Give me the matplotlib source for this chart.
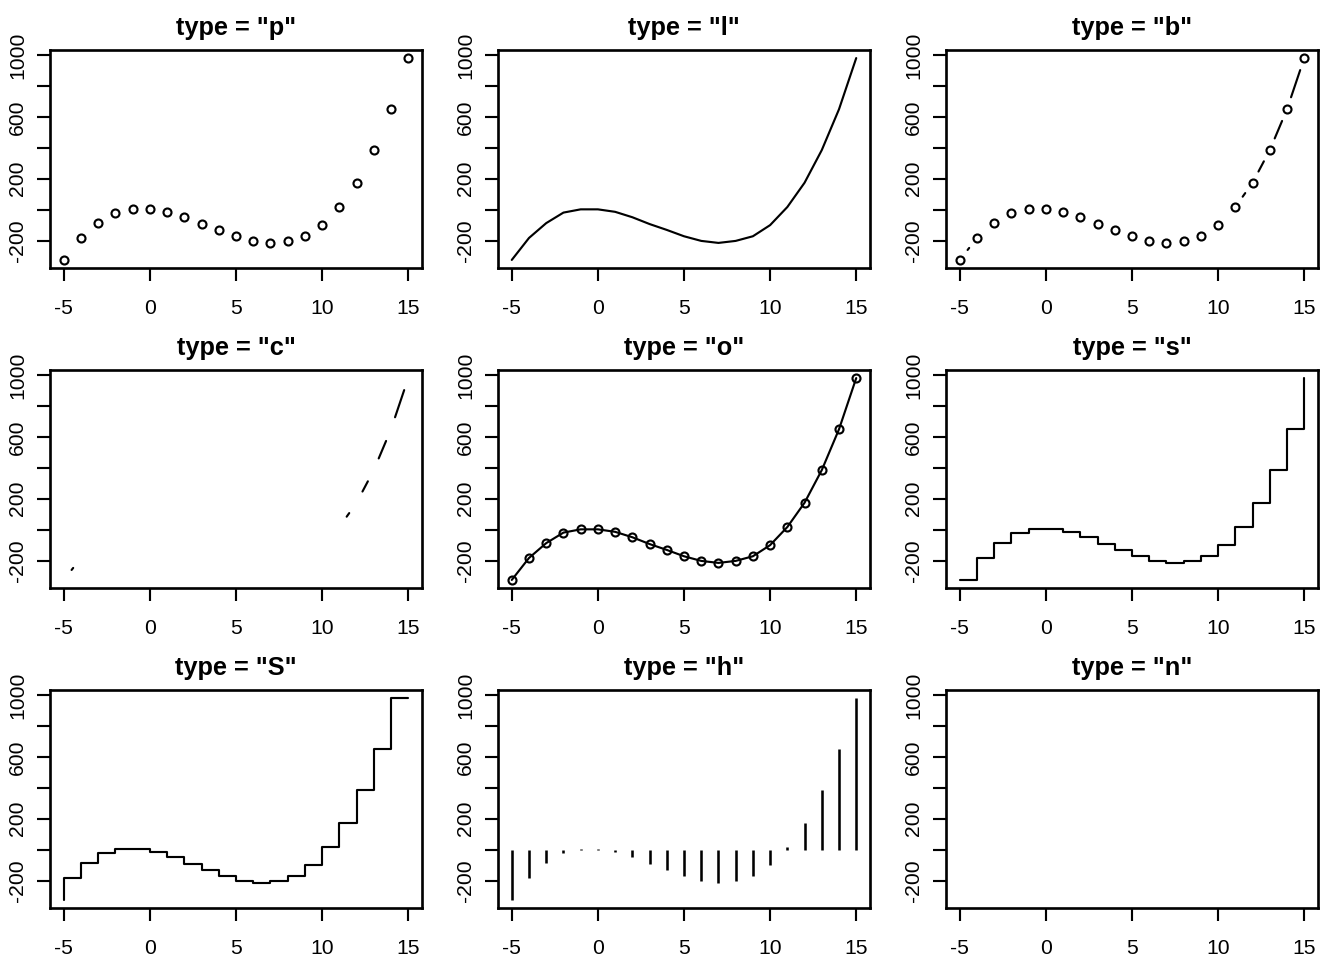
import numpy as np
import matplotlib.pyplot as plt

plt.rcParams["font.family"] = ["Liberation Sans", "DejaVu Sans"]
plt.rcParams["axes.unicode_minus"] = False

# data (same series in every panel)
x = list(range(-5, 16))
y = [-325, -183, -87, -19, 2, 2, -14, -49, -93, -131, -172, -202, -215,
     -202, -172, -100, 17, 174, 385, 649, 980]
types = ["p", "l", "b", "c", "o", "s", "S", "h", "n"]
xticks = [-5, 0, 5, 10, 15]
yticks = [-200, 0, 200, 400, 600, 800, 1000]
ylabels = ["-200", "", "200", "", "600", "", "1000"]

DPI = 192
fig = plt.figure(figsize=(7, 5), dpi=DPI)

LW = 0.8          # lwd = 1
GAP = 0.066 * DPI  # gap around points for type "b" / "c", in pixels


def gapped_segments(ax, xs, ys):
    # R leaves a gap of half a character around each point
    pts = ax.transData.transform(np.column_stack([xs, ys]))
    inv = ax.transData.inverted()
    for p0, p1 in zip(pts[:-1], pts[1:]):
        d = p1 - p0
        f = np.hypot(*d)
        if f > 2 * GAP:
            a = p0 + d * GAP / f
            b = p1 - d * GAP / f
            seg = inv.transform(np.array([a, b]))
            ax.plot(seg[:, 0], seg[:, 1], color="black", lw=LW,
                    solid_capstyle="round")


xr = max(x) - min(x)
yr = max(y) - min(y)

for i, t in enumerate(types):
    r, c = divmod(i, 3)
    left = (50 + 448 * c) / 1344
    bottom = 1 - (268 + 320 * r) / 960
    ax = fig.add_axes([left, bottom, 372 / 1344, 218 / 960])
    ax.set_xlim(min(x) - 0.04 * xr, max(x) + 0.04 * xr)
    ax.set_ylim(min(y) - 0.04 * yr, max(y) + 0.04 * yr)

    kw = dict(color="black", lw=LW, solid_capstyle="round",
              solid_joinstyle="round")
    mk = dict(marker="o", ms=3.0, mfc="none", mec="black", mew=LW)

    if t == "p":
        ax.plot(x, y, ls="none", **mk)
    elif t == "l":
        ax.plot(x, y, **kw)
    elif t == "b":
        gapped_segments(ax, x, y)
        ax.plot(x, y, ls="none", **mk)
    elif t == "c":
        gapped_segments(ax, x, y)
    elif t == "o":
        ax.plot(x, y, **kw, **mk)
    elif t == "s":
        ax.plot(x, y, drawstyle="steps-post", **kw)
    elif t == "S":
        ax.plot(x, y, drawstyle="steps-pre", **kw)
    elif t == "h":
        ax.vlines(x, 0, y, color="black", lw=LW * 1.2, capstyle="butt")

    ax.set_xticks(xticks)
    ax.set_yticks(yticks)
    ax.set_yticklabels(ylabels)
    ax.tick_params(axis="both", direction="out", length=4.75, width=LW,
                   labelsize=7.92, color="black")
    ax.tick_params(axis="x", pad=6.8)
    ax.tick_params(axis="y", pad=3.8)
    for lab in ax.get_yticklabels():
        lab.set_rotation(90)
        lab.set_va("center")
    for s in ax.spines.values():
        s.set_linewidth(1.0)
    ax.set_title('type = "%s"' % t, fontsize=9.5, fontweight="bold", pad=5.6)

fig.savefig("out.png", dpi=DPI)
